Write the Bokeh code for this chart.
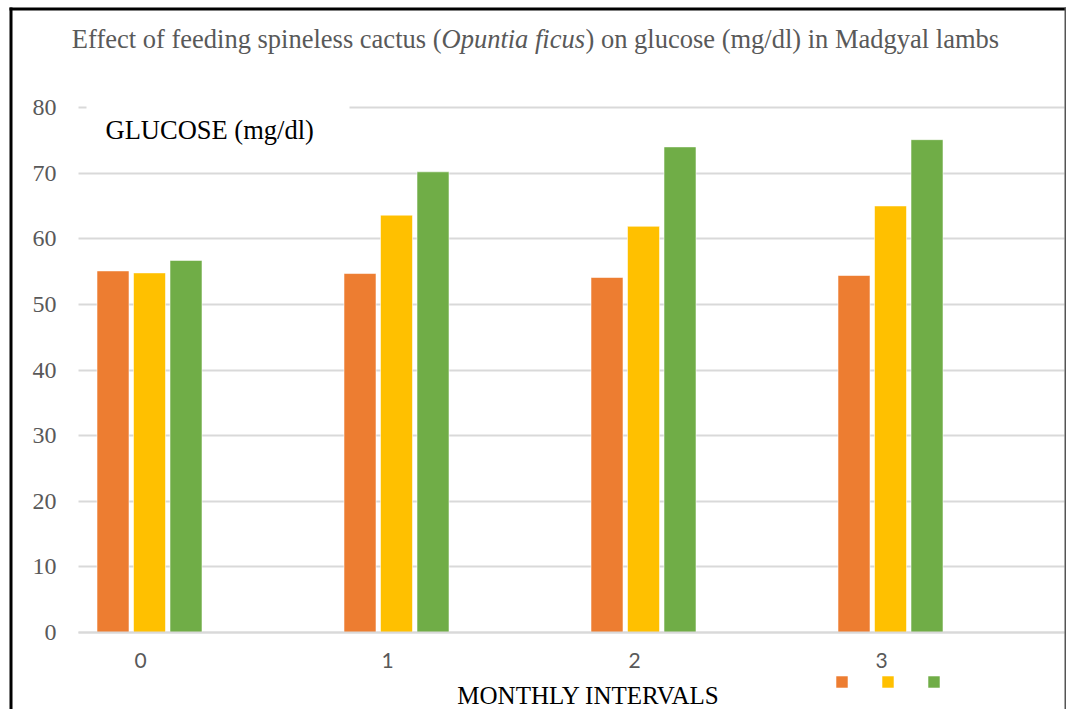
from bokeh.plotting import figure
from bokeh.models import (ColumnDataSource, FixedTicker, Label, BoxAnnotation,
                          Legend, LegendItem, Range1d, Grid)
from bokeh.transform import dodge
from bokeh.embed import file_html
from bokeh.resources import INLINE

# ---- data -------------------------------------------------------------
months = [0, 1, 2, 3]
glucose_t1 = [55.1, 54.7, 54.1, 54.4]
glucose_t2 = [54.8, 63.6, 61.9, 65.0]
glucose_t3 = [56.7, 70.2, 74.0, 75.1]
y_ticks = [0, 10, 20, 30, 40, 50, 60, 70, 80]

title_parts = ["Effect of feeding spineless cactus (", "Opuntia ficus",
               ") on glucose (mg/dl) in Madgyal lambs"]
y_title = "GLUCOSE (mg/dl)"
x_title = "MONTHLY INTERVALS"

colors = ["#ED7D31", "#FFC000", "#70AD47"]

# ---- geometry (canvas pixels) ----------------------------------------
W, H = 1066, 709
PLOT_LEFT, PLOT_RIGHT, PLOT_BOTTOM = 78, 1064, 632
PX_PER_MONTH = 247.0
MONTH0_PX = 140.0
PX_PER_UNIT = 6.5625


def xpx(px):
    """canvas x pixel -> data x"""
    return (px - MONTH0_PX) / PX_PER_MONTH


def ypx(py):
    """canvas y pixel -> data y"""
    return (PLOT_BOTTOM - py) / PX_PER_UNIT


source = ColumnDataSource(dict(month=months, t1=glucose_t1, t2=glucose_t2, t3=glucose_t3))

# the frame fills the whole canvas; axes sit at fixed locations inside it
p = figure(width=W, height=H, output_backend="svg", toolbar_location=None,
           x_range=Range1d(xpx(0), xpx(W)), y_range=Range1d(ypx(H), ypx(0)),
           min_border=0)
p.outline_line_color = None
p.background_fill_color = "white"
p.border_fill_color = "white"

# ---- grid -------------------------------------------------------------
p.xgrid.visible = False
ygrid = p.ygrid[0]
ygrid.ticker = FixedTicker(ticks=y_ticks)
ygrid.grid_line_color = "#d9d9d9"
ygrid.grid_line_width = 2
if "cross_bounds" in Grid.properties():
    ygrid.cross_bounds = (xpx(PLOT_LEFT), xpx(PLOT_RIGHT))
else:
    ygrid.visible = False
    p.segment(x0=[xpx(PLOT_LEFT)] * len(y_ticks), x1=[xpx(PLOT_RIGHT)] * len(y_ticks),
              y0=y_ticks, y1=y_ticks, line_color="#d9d9d9", line_width=2, level="underlay")

# ---- bars -------------------------------------------------------------
bar_w = 32 / PX_PER_MONTH
offsets = [-27.5 / PX_PER_MONTH, 9 / PX_PER_MONTH, 45.5 / PX_PER_MONTH]
renderers = []
for col, off, c in zip(["t1", "t2", "t3"], offsets, colors):
    r = p.vbar(x=dodge("month", off, range=p.x_range), top=col, width=bar_w,
               source=source, fill_color=c, line_color="white", line_alpha=0.55,
               line_width=1)
    renderers.append(r)

# ---- axes -------------------------------------------------------------
yax = p.yaxis[0]
yax.fixed_location = xpx(PLOT_LEFT)
yax.ticker = FixedTicker(ticks=y_ticks)
yax.axis_line_color = None
yax.major_tick_line_color = None
yax.minor_tick_line_color = None
yax.major_label_text_font = "Liberation Serif"
yax.major_label_text_font_size = "24px"
yax.major_label_text_color = "#595959"
yax.major_label_standoff = 16

xax = p.xaxis[0]
xax.fixed_location = 0
xax.bounds = (xpx(PLOT_LEFT), xpx(PLOT_RIGHT))
xax.ticker = FixedTicker(ticks=months)
xax.axis_line_color = "#d9d9d9"
xax.axis_line_width = 2
xax.major_tick_line_color = None
xax.minor_tick_line_color = None
xax.major_label_text_font = "Lato"
xax.major_label_text_font_size = "21px"
xax.major_label_text_color = "#595959"
xax.major_label_standoff = 14

# ---- title (regular / italic / regular) --------------------------------
title_font = "Liberation Serif"
title_size = "26.5px"
common = dict(y=ypx(38), text_font=title_font, text_font_size=title_size,
              text_color="#595959", text_baseline="alphabetic")
p.add_layout(Label(x=xpx(441), text=title_parts[0], text_align="right", **common))
p.add_layout(Label(x=xpx(441), text=title_parts[1], text_align="left",
                   text_font_style="italic", **common))
p.add_layout(Label(x=xpx(585), text=title_parts[2], text_align="left", **common))

# ---- value-axis caption in a white box ---------------------------------
p.add_layout(BoxAnnotation(left=xpx(86), right=xpx(349), top=ypx(97), bottom=ypx(155),
                           fill_color="white", fill_alpha=1.0, line_color=None))
p.add_layout(Label(x=xpx(105), y=ypx(129), text=y_title, text_align="left",
                   text_baseline="alphabetic", text_font="Liberation Serif",
                   text_font_size="26.5px", text_color="black"))

# ---- category-axis caption ---------------------------------------------
p.add_layout(Label(x=xpx(588), y=ypx(695), text=x_title, text_align="center",
                   text_baseline="alphabetic", text_font="Liberation Serif",
                   text_font_size="25px", text_color="black"))

# ---- legend: colour keys only -------------------------------------------
legend = Legend(items=[LegendItem(label="", renderers=[r]) for r in renderers],
                orientation="horizontal", location=(834, H - 689),
                glyph_width=15, glyph_height=15, label_width=0, label_height=0,
                label_standoff=0, spacing=31, padding=0, margin=0,
                label_text_font_size="1px",
                border_line_color=None, background_fill_alpha=0)
p.add_layout(legend)

# ---- chart border -------------------------------------------------------
for l, r, t, b, c in [(9, 12, 7, 709, "black"), (9, 1066, 7, 10, "black"),
                      (1064, 1066, 7, 709, "#555555")]:
    p.add_layout(BoxAnnotation(left=l, right=r, top=t, bottom=b,
                               left_units="canvas", right_units="canvas",
                               top_units="canvas", bottom_units="canvas",
                               fill_color=c, fill_alpha=1.0, line_color=None,
                               level="overlay"))

open("out.html", "w").write(file_html(p, INLINE))
